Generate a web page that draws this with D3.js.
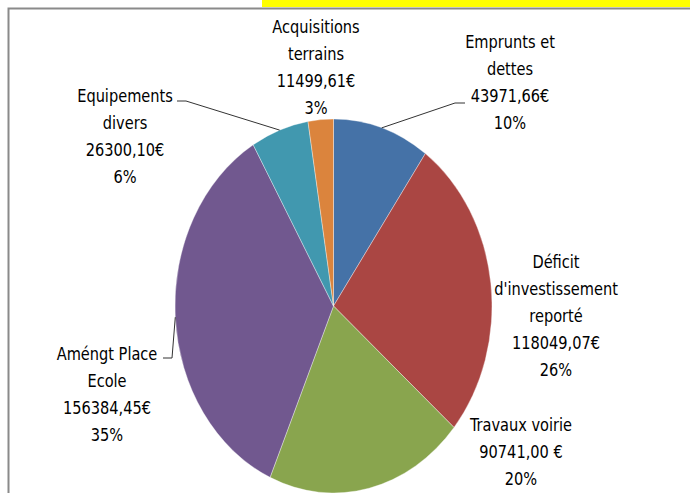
<!DOCTYPE html>
<html><head><meta charset="utf-8">
<script src="https://cdn.jsdelivr.net/npm/d3@7"></script>
<style>
html,body{margin:0;padding:0;background:#fff;}
svg{display:block;}
text{font-family:"Liberation Sans Narrow","DejaVu Sans Condensed","Arial Narrow",sans-serif;fill:#000;}
</style></head>
<body>
<svg id="chart" width="690" height="493"></svg>
<script>
const categories = [
  ["Emprunts et", "dettes"],
  ["Déficit", "d'investissement", "reporté"],
  ["Travaux voirie"],
  ["Améngt Place", "Ecole"],
  ["Equipements", "divers"],
  ["Acquisitions", "terrains"]
];
const values = [43971.66, 118049.07, 90741.00, 156384.45, 26300.10, 11499.61];
const valueLabels = ["43971,66€", "118049,07€", "90741,00 €", "156384,45€", "26300,10€", "11499,61€"];
const colors = ["#4572A7", "#AA4643", "#89A54E", "#71588F", "#4198AF", "#DB843D"];

const W = 690, H = 493;
const svg = d3.select("#chart");

// frame
svg.append("rect").attr("x", 262).attr("y", 0).attr("width", W - 262).attr("height", 7).attr("fill", "#ffff00");
svg.append("path").attr("d", `M8.5,${H} V8.5 H${W}`).attr("fill", "none").attr("stroke", "#8a8a8a").attr("stroke-width", 2);

const cx = 333.5, cy = 306, rx = 158.5, ry = 187;
const total = d3.sum(values);
const pie = d3.pie().sort(null).value(d => d)(values);
const arc = d3.arc().innerRadius(0).outerRadius(rx);

const g = svg.append("g").attr("transform", `translate(${cx},${cy}) scale(1,${ry / rx})`);
g.selectAll("path").data(pie).join("path")
  .attr("d", arc)
  .attr("fill", (d, i) => colors[i])
  .attr("stroke", "#ffffff").attr("stroke-width", 0.6).attr("stroke-opacity", 0.6)
  .attr("vector-effect", "non-scaling-stroke");

const pct = d3.format(".0%");
const edge = d => {
  const a = (d.startAngle + d.endAngle) / 2;
  return [cx + rx * Math.sin(a), cy - ry * Math.cos(a)];
};

// label layout: center x, first-line center y, leader
const layout = [
  {x: 510, y: 42, leader: [[465, 103], [455, 103]]},
  {x: 556, y: 262},
  {x: 521, y: 425},
  {x: 107, y: 354, leader: [[163, 358], [172, 358]]},
  {x: 125, y: 96, leader: [[177, 101], [186, 101]]},
  {x: 316, y: 27}
];
const step = 27;
pie.forEach((d, i) => {
  const L = layout[i];
  const lines = categories[i].concat([valueLabels[i], pct(values[i] / total)]);
  const t = svg.append("text").attr("text-anchor", "middle").attr("font-size", 18)
    .attr("transform", `translate(${L.x},0) scale(0.9,1)`);
  lines.forEach((s, k) => {
    t.append("tspan").attr("x", 0).attr("y", L.y + k * step + 6).text(s);
  });
  if (L.leader) {
    const pts = L.leader.concat([edge(d)]);
    svg.append("path").attr("d", d3.line()(pts)).attr("fill", "none")
      .attr("stroke", "#333").attr("stroke-width", 1);
  }
});
</script>
</body></html>
